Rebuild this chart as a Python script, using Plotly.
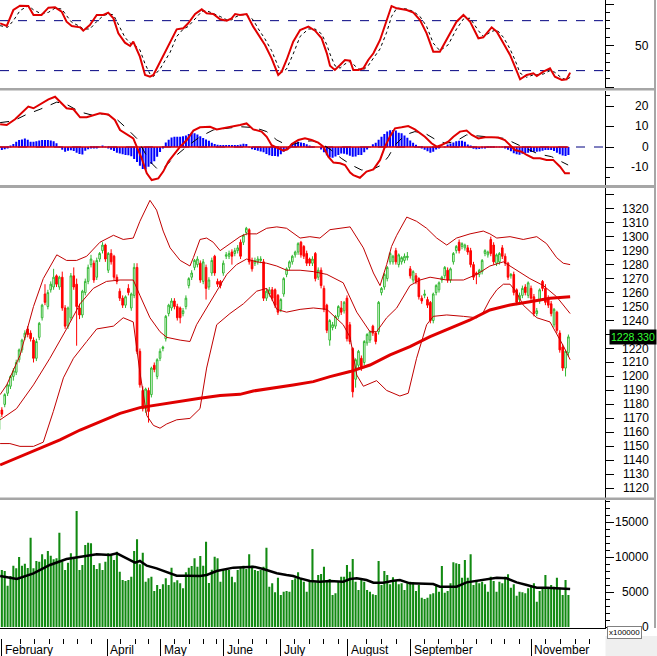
import plotly.graph_objects as go

# ---------------- data ----------------
opens = [1162,1176,1180,1188,1193,1200,1203,1212,1219,1228,
         1234,1231,1226,1213,1228,1242,1259,1250,1262,1264,
         1272,1264,1271,1249,1236,1242,1272,1266,1249,1244,
         1260,1268,1280,1281,1271,1284,1290,1294,1276,1288,
         1286,1271,1261,1256,1251,1263,1249,1258,1278,1218,
         1190,1177,1190,1187,1208,1200,1213,1220,1227,1245,
         1249,1254,1250,1249,1245,1250,1265,1271,1278,1280,
         1281,1268,1278,1264,1274,1286,1268,1268,1274,1286,
         1286,1289,1288,1290,1296,1296,1303,1305,1283,1281,
         1282,1283,1282,1256,1259,1262,1262,1258,1248,1259,
         1273,1278,1282,1287,1289,1296,1293,1288,1284,1281,
         1288,1271,1276,1263,1251,1226,1235,1236,1243,1249,
         1247,1256,1237,1220,1198,1208,1213,1210,1224,1226,
         1236,1231,1232,1260,1264,1270,1282,1282,1290,1280,
         1282,1283,1285,1277,1269,1272,1270,1256,1258,1255,
         1253,1240,1260,1262,1269,1272,1276,1269,1282,1290,
         1296,1293,1292,1292,1290,1280,1274,1273,1275,1288,
         1287,1298,1294,1281,1282,1292,1286,1281,1272,1273,
         1262,1255,1258,1264,1258,1263,1257,1245,1254,1268,
         1263,1256,1252,1237,1246,1231,1221,1206,1217]
highs = [1173,1178,1188,1195,1201,1206,1212,1220,1227,1233,
         1236,1233,1228,1227,1239,1252,1266,1262,1268,1277,
         1273,1272,1275,1251,1250,1274,1278,1270,1252,1262,
         1270,1280,1287,1283,1285,1289,1296,1295,1289,1291,
         1287,1273,1263,1258,1258,1266,1260,1281,1281,1220,
         1193,1192,1192,1207,1210,1213,1220,1222,1244,1252,
         1256,1256,1252,1250,1249,1258,1271,1276,1284,1286,
         1283,1284,1280,1271,1285,1287,1270,1269,1283,1289,
         1290,1291,1292,1294,1298,1302,1307,1306,1285,1285,
         1286,1286,1284,1263,1264,1264,1263,1259,1256,1271,
         1278,1283,1287,1290,1296,1297,1294,1290,1285,1286,
         1289,1278,1278,1265,1252,1241,1239,1244,1251,1254,
         1254,1258,1239,1221,1213,1219,1215,1226,1231,1233,
         1237,1232,1254,1264,1274,1279,1289,1287,1292,1288,
         1286,1288,1289,1279,1276,1274,1271,1258,1262,1257,
         1254,1260,1266,1268,1272,1279,1278,1278,1289,1294,
         1298,1296,1295,1294,1292,1282,1275,1277,1284,1291,
         1290,1300,1296,1288,1289,1294,1288,1282,1274,1275,
         1263,1260,1265,1266,1268,1265,1259,1249,1263,1269,
         1266,1258,1254,1249,1247,1233,1223,1219,1230]
lows = [1158,1171,1178,1186,1191,1197,1201,1210,1217,1226,
        1228,1225,1210,1211,1226,1240,1251,1248,1260,1262,
        1264,1262,1247,1234,1234,1240,1262,1222,1241,1242,
        1258,1266,1278,1267,1269,1282,1288,1282,1274,1280,
        1269,1266,1254,1249,1249,1258,1247,1256,1216,1192,
        1175,1174,1167,1185,1203,1198,1211,1218,1225,1243,
        1247,1248,1240,1238,1243,1248,1263,1269,1276,1278,
        1267,1266,1255,1262,1272,1272,1264,1263,1272,1284,
        1284,1280,1286,1288,1284,1294,1301,1280,1275,1279,
        1280,1281,1254,1254,1257,1254,1249,1244,1246,1257,
        1271,1276,1280,1285,1287,1285,1284,1279,1279,1279,
        1268,1269,1263,1246,1231,1222,1233,1234,1241,1244,
        1245,1225,1223,1185,1192,1206,1204,1208,1222,1224,
        1229,1223,1230,1258,1262,1268,1280,1280,1280,1278,
        1280,1281,1283,1270,1267,1266,1255,1252,1256,1249,
        1238,1238,1258,1260,1267,1270,1267,1267,1280,1288,
        1288,1291,1290,1287,1278,1269,1266,1271,1273,1286,
        1285,1286,1280,1279,1280,1284,1279,1269,1270,1258,
        1251,1253,1256,1258,1256,1254,1243,1243,1252,1261,
        1251,1249,1243,1235,1231,1217,1204,1200,1214]
closes = [1172,1173,1187,1194,1200,1204,1210,1219,1226,1231,
          1230,1227,1213,1225,1238,1251,1253,1260,1266,1271,
          1266,1271,1249,1236,1249,1272,1264,1250,1244,1261,
          1268,1278,1284,1269,1283,1288,1294,1284,1288,1282,
          1271,1268,1256,1251,1257,1260,1259,1278,1218,1194,
          1177,1191,1175,1206,1205,1212,1218,1221,1243,1251,
          1254,1250,1242,1242,1247,1256,1270,1274,1283,1284,
          1269,1282,1263,1269,1283,1274,1266,1265,1281,1287,
          1288,1286,1290,1292,1286,1301,1306,1282,1277,1283,
          1284,1284,1256,1261,1262,1256,1251,1246,1255,1270,
          1277,1282,1286,1289,1295,1287,1286,1281,1281,1284,
          1270,1276,1265,1248,1233,1240,1237,1243,1250,1246,
          1253,1227,1225,1189,1212,1218,1206,1225,1230,1232,
          1231,1225,1253,1263,1273,1278,1288,1286,1282,1287,
          1285,1286,1286,1272,1275,1268,1257,1254,1259,1251,
          1240,1259,1265,1267,1271,1278,1269,1277,1288,1293,
          1290,1295,1294,1289,1280,1271,1273,1276,1283,1290,
          1289,1288,1282,1287,1288,1286,1281,1271,1273,1260,
          1253,1258,1263,1260,1267,1256,1245,1247,1262,1263,
          1253,1251,1245,1248,1233,1219,1206,1218,1228.33]

volumes = [6000,8140,8000,5900,7290,8760,8380,10000,8760,9050,
           8430,12760,8380,9430,9330,10380,9670,10860,10190,9670,
           9810,13480,9330,8140,9190,10520,9810,16570,8140,8860,
           11710,12050,11950,8860,8290,9100,8140,9330,10520,10290,
           9570,10760,7900,6710,6570,6710,7190,10860,12520,8950,
           10620,6480,6950,7190,5140,6000,5430,6100,6950,6000,
           8480,6380,6670,6240,5520,7810,8480,8710,9810,8620,
           10140,8760,12190,6290,8190,10050,9810,6480,8290,8140,
           8140,7190,6380,8140,8480,8760,8290,10380,8760,8140,
           8000,8140,8620,11330,5760,6240,4950,7050,4570,5050,
           5140,5050,6710,6950,7810,6950,6480,5050,6480,11140,
           6380,7430,7570,8620,6710,6860,
           4570,4810,6480,7190,7190,8860,7900,9710,6480,5290,
           6710,6480,5290,5050,4670,4570,9430,6000,8000,7430,
           6100,7100,6710,6100,6240,5290,6240,6480,6380,5140,
           6000,4190,4000,4190,4670,4810,6100,5050,8710,4900,
           5140,6240,9240,9100,9000,7050,9570,7050,10380,6000,
           6620,6240,6480,6100,5050,7190,6570,5050,6480,6240,
           7190,7520,5620,6100,4480,5050,4950,4810,5520,5900,
           6240,3620,5140,5520,7430,5520,6000,5760,7050,5620,
           4570,6710,4570]

macd_hist = [-1.5,-1.5,-1.1,-0.3,0.7,1.5,2.5,3.4,3.7,4.1,
             3.5,2.6,2.5,2.8,3.2,3.4,3.4,3.4,3.2,2.8,
             1.8,0.2,-1.3,-2.3,-1.8,-1.6,-2.0,-2.8,-3.4,-3.7,
             -1.8,-1.1,-0.7,-0.6,-0.3,0.2,0.5,-0.2,-0.6,-1.3,
             -2.0,-2.8,-3.2,-3.5,-3.9,-4.0,-4.5,-5.8,-7.3,-9.2,
             -10.7,-11.0,-9.6,-8.3,-7.0,-4.8,-2.5,-0.5,2.2,3.5,
             4.6,5.0,5.0,5.0,5.2,5.6,6.4,7.0,6.7,6.1,
             5.3,4.4,3.6,3.0,2.1,1.5,1.1,1.0,1.0,1.0,
             1.0,1.0,1.0,1.0,1.2,1.6,1.5,0.2,-1.1,-1.5,
             -1.8,-2.2,-2.6,-3.4,-4.0,-4.4,-4.4,-4.6,-3.5,-2.3,
             -1.6,-0.5,1.9,2.6,2.6,2.2,1.9,1.4,0.7,0.2,
             0,0,-1.2,-2.6,-4.0,-5.0,-5.3,-4.6,-3.9,-3.2,
             -3.3,-3.7,-4.3,-4.7,-4.6,-3.9,-3.9,-2.6,-1.2,0.1,
             1.3,2.1,3.5,5.0,6.4,7.6,8.2,8.3,8.0,7.0,
             6.7,5.6,4.5,3.2,2.1,1.1,0.1,-0.7,-1.4,-2.1,
             -2.8,-2.3,-1.2,-0.3,0,0.2,1.2,1.7,2.2,2.8,
             3.1,3.1,2.6,1.2,0.3,-0.8,-1.1,-1.0,-0.6,-0.3,
             -0.2,-0.2,-0.2,-0.2,-0.2,-0.2,-0.7,-1.4,-2.1,-3.0,
             -3.6,-3.8,-3.3,-3.1,-2.8,-2.4,-2.3,-2.3,-2.2,-1.8,
             -1.5,-1.5,-1.5,-2.0,-2.8,-3.6,-4.2,-4.4,-3.9]

# sampled indicator lines: (day index, value)
stoch_k = [(1.4,76.8),(3.7,73.6),(6.0,92.8),(8.3,98),(11.2,97.6),(13.0,86.8),(15.8,86.8),(18.2,95.6),
           (20.5,96),(22.8,90.8),(24.5,78.8),(26.3,73.6),(29.2,72),(30.3,68),(32.6,74.8),(35.0,86.8),
           (37.3,86.8),(39.0,89.6),(40.8,82.8),(42.5,64.8),(44.8,53.6),(46.6,49.6),(47.7,54.8),(50.0,36.8),
           (51.8,14.8),(53.5,12.8),(54.7,14.8),(57.0,30.8),(60.5,54.8),(62.8,69.6),(65.1,70.8),(66.8,76.8),
           (69.2,88),(71.5,93.6),(73.2,88.8),(75.5,88),(77.9,81.6),(80.2,80),(81.9,82.8),(83.1,88),
           (84.8,86.8),(87.1,88),(89.4,72.8),(91.2,62.8),(93.5,50.8),(95.8,34.8),(98.1,14.8),(99.3,18.8),
           (101.0,32.8),(103.3,54.8),(105.7,68.8),(108.6,72.8),(110.9,68),(113.2,58.8),(115.0,40.8),(116.1,26),
           (117.8,20.8),(119.6,26.8),(121.3,32.8),(123.1,32),(124.2,20.8),(126.0,20.8),(127.7,22.8),(129.4,32.8),
           (131.2,40.8),(133.5,56.8),(135.8,78.8),(137.5,97.6),(139.3,94.8),(142.8,92.8),(145.1,89.6),(147.4,80.8),
           (149.7,64.8),(152.0,42.8),(154.3,42.8),(157.2,60.8),(160.1,78.8),(162.5,86.8),(164.8,78.8),(167.7,58.8),
           (169.4,60),(172.3,72),(174.1,66.8),(176.4,52.8),(178.7,38.8),(180.4,24.8),(182.2,9.6),(184.5,14.8),
           (186.8,16.8),(188.0,13.6),(190.3,18.8),(192.6,22.8),(194.3,12.8),(196.7,8.8),(198.4,9.6),(199.6,17.6)]
stoch_d = [(1.4,74),(4.0,72),(6.0,80),(8.3,92),(11.2,98),(13.0,93),(15.8,88),(18.2,90),(20.5,95),(22.8,94),
           (24.5,86),(26.3,78),(29.2,73),(30.3,70),(32.6,70),(35.0,79),(37.3,86),(39.0,88),(40.8,87),(42.5,76),
           (44.8,60),(46.6,53),(47.7,52),(50.0,45),(51.8,28),(53.5,16),(54.7,13),(57.0,22),(60.5,42),(62.8,61),
           (65.1,70),(66.8,73),(69.2,82),(71.5,91),(73.2,92),(75.5,89),(77.9,85),(80.2,81),(81.9,81),(83.1,84),
           (84.8,87),(87.1,87),(89.4,81),(91.2,70),(93.5,58),(95.8,44),(98.1,25),(99.3,18),(101.0,22),(103.3,40),
           (105.7,61),(108.6,70),(110.9,70),(113.2,64),(115.0,51),(116.1,40),(117.8,26),(119.6,23),(121.3,28),
           (123.1,31),(124.2,28),(126.0,22),(127.7,21),(129.4,26),(131.2,35),(133.5,46),(135.8,66),(137.5,85),
           (139.3,95),(142.8,94),(145.1,91),(147.4,85),(149.7,73),(152.0,53),(154.3,44),(157.2,51),(160.1,70),
           (162.5,82),(164.8,83),(167.7,68),(169.4,61),(172.3,67),(174.1,69),(176.4,60),(178.7,46),(180.4,33),
           (182.2,17),(184.5,12),(186.8,15),(188.0,15),(190.3,16),(192.6,20),(194.3,18),(196.7,11),(198.4,9),(199.6,12)]

macd_line = [(1.4,11.1),(3.7,10.7),(6.6,13.5),(8.9,16.4),(11.2,19.7),(13.0,18.9),(15.8,21.3),(18.2,23.2),
             (20.5,24.5),(22.2,22.1),(24.5,18.9),(26.9,18.4),(29.2,14.5),(31.5,14.5),(33.8,15.6),(36.1,16.4),
             (39.0,15.9),(41.3,13.2),(43.1,8.3),(45.4,6.3),(47.7,4.2),(48.9,0.2),(50.6,-5.5),(52.4,-12.8),
             (54.1,-16.1),(56.4,-15.3),(58.1,-12.0),(59.9,-7.1),(61.6,-3.9),(64.0,0.2),(66.3,3.4),(68.6,8.0),
             (70.9,9.6),(74.4,9.9),(76.7,8.6),(79.0,9.1),(81.3,9.9),(84.8,10.7),(87.1,11.5),(89.4,8.6),
             (92.3,7.5),(94.1,5.0),(95.8,0.9),(97.6,-0.2),(99.9,-1.8),(101.4,-1.0),(102.8,1.5),(105.1,3.4),
             (107.4,4.2),(109.7,3.4),(112.0,2.1),(113.8,0.2),(115.5,-4.7),(117.3,-7.6),(119.6,-7.9),(121.3,-8.8),
             (123.1,-12.5),(124.2,-13.7),(126.5,-15.0),(128.8,-12.0),(131.2,-10.9),(133.5,-6.3),(135.2,0.2),
             (136.9,5.0),(138.7,9.1),(141.0,9.6),(143.3,10.2),(145.6,8.6),(147.4,6.7),(149.1,5.0),(151.4,1.8),
             (153.2,0.2),(154.9,1.0),(157.2,2.6),(159.0,5.0),(161.3,7.5),(163.6,8.0),(165.4,5.9),(167.7,4.2),
             (170.0,4.7),(172.3,4.7),(174.6,4.6),(176.9,3.4),(178.7,0.9),(180.4,-1.5),(182.7,-2.3),(184.5,-3.9),
             (186.8,-5.5),(189.1,-5.5),(191.4,-6.3),(193.7,-6.3),(196.1,-9.6),(197.8,-12.8),(199.5,-12.8)]
macd_signal = [(1.4,11.9),(6.0,12.7),(10.6,15.9),(15.3,18.4),(21.1,21.9),(24.5,20.8),(29.2,17.1),(33.8,15.4),
               (37.3,16.2),(40.8,15.0),(45.4,9.1),(48.9,4.2),(51.2,-1.5),(53.5,-7.1),(56.4,-11.2),(58.1,-10.4),
               (60.5,-7.1),(62.8,-3.9),(66.3,0.2),(70.9,5.0),(75.5,8.3),(80.2,9.1),(84.8,9.9),(88.3,9.6),
               (91.8,8.6),(94.1,7.5),(97.6,3.4),(99.9,1.8),(102.2,0.9),(104.0,1.6),(107.0,2.8),(110.0,3.0),
               (113.0,1.8),(116.5,-1.5),(120.0,-5.5),(123.6,-8.8),(127.0,-11.2),(130.5,-11.2),(134.0,-8.8),
               (136.4,-4.7),(138.7,0.9),(142.2,5.9),(145.6,7.5),(149.1,6.7),(152.6,3.8),(156.1,1.8),(159.6,2.6),
               (163.6,5.9),(167.7,5.4),(172.3,5.0),(176.9,4.2),(180.4,1.8),(183.9,-0.6),(188.5,-3.4),
               (193.1,-4.7),(196.6,-7.1),(198.9,-8.8)]

bb_upper = [(1.4,1187),(3.7,1194),(8.3,1215),(13.0,1250),(16.4,1270),(21.1,1287),(24.5,1283),(28.0,1283),
            (31.5,1286),(36.1,1296),(40.8,1301),(44.2,1298),(47.7,1299),(50.0,1311),(53.5,1326),(55.8,1319),
            (58.1,1304),(60.5,1292),(64.0,1283),(67.4,1279),(68.6,1285),(70.9,1298),(73.2,1299),(75.5,1296),
            (77.9,1290),(81.3,1295),(84.8,1300),(87.1,1302),(90.6,1302),(94.1,1306),(97.6,1307),(101.0,1306),
            (105.7,1299),(109.1,1300),(112.6,1299),(116.1,1305),(119.6,1306),(123.1,1307),(127.7,1292),
            (131.2,1274),(133.5,1265),(135.8,1280),(137.5,1293),(139.3,1301),(142.8,1314),(146.2,1311),
            (149.7,1306),(153.2,1299),(156.7,1294),(160.1,1299),(164.8,1302),(169.4,1304),(171.7,1302),
            (174.1,1299),(178.7,1300),(183.3,1298),(188.0,1300),(191.4,1295),(194.9,1285),(197.2,1281),(199.6,1280)]
bb_middle = [(1.4,1169),(7.1,1177),(13.0,1194),(18.7,1213),(24.5,1234),(29.2,1252),(33.8,1263),(38.4,1268),
             (43.1,1269),(47.7,1269),(50.0,1258),(53.5,1242),(57.0,1232),(59.3,1228),(64.0,1226),(67.4,1225),
             (69.7,1237),(73.2,1249),(76.7,1262),(80.2,1273),(83.6,1280),(87.1,1284),(90.6,1282),(94.1,1281),
             (97.6,1279),(101.0,1276),(105.7,1276),(110.3,1275),(115.0,1273),(120.7,1267),(125.4,1246),
             (130.0,1232),(132.3,1232),(135.8,1242),(139.3,1249),(143.9,1265),(147.4,1269),(150.9,1271),
             (156.7,1269),(162.5,1269),(167.1,1273),(171.7,1279),(176.4,1282),(181.0,1276),(185.6,1270),
             (190.3,1265),(194.9,1257),(199.6,1245)]
bb_lower = [(1.4,1152),(4.8,1152),(8.3,1150),(13.0,1150),(16.4,1153),(19.9,1175),(23.4,1199),(26.9,1213),
            (31.5,1225),(35.0,1234),(40.8,1236),(44.2,1242),(47.7,1239),(50.0,1203),(52.4,1172),(54.7,1165),
            (57.0,1163),(59.3,1166),(62.8,1169),(67.4,1170),(70.9,1177),(73.2,1206),(76.7,1237),(81.3,1245),
            (86.0,1252),(90.6,1261),(94.1,1263),(97.6,1248),(101.0,1246),(105.7,1248),(110.3,1249),(115.0,1248),
            (120.7,1237),(123.1,1228),(125.4,1201),(127.7,1193),(132.3,1197),(135.8,1190),(140.4,1186),
            (143.3,1188),(146.2,1213),(149.7,1237),(152.0,1243),(156.7,1244),(162.5,1243),(167.1,1242),
            (169.4,1246),(171.7,1255),(174.1,1262),(176.4,1266),(178.7,1266),(181.0,1260),(183.3,1251),
            (188.0,1242),(192.6,1239),(197.2,1222),(199.6,1212)]
ma200 = [(1.4,1136.7),(8.3,1142.7),(15.3,1148.6),(22.2,1154.6),(29.2,1161.7),(36.1,1167.7),(43.1,1173.6),
         (50.0,1177.7),(57.0,1180.0),(64.0,1182.5),(70.9,1184.4),(77.9,1186.3),(84.8,1187.2),(89.4,1189.6),
         (96.4,1191.5),(103.3,1193.9),(110.3,1196.3),(116.1,1199.9),(123.1,1203.5),(130.0,1208.2),
         (137.0,1215.4),(143.9,1221.3),(150.9,1228.5),(157.8,1234.5),(164.8,1240.4),(171.7,1247.6),
         (178.7,1251.1),(185.6,1253.5),(192.6,1255.9),(199.6,1257.1)]
vol_ma = [(1.4,7290),(7.2,6860),(13.0,7670),(18.7,8860),(24.5,9710),(30.3,10140),(35.0,10380),(39.6,10290),
          (42.0,10520),(44.2,10050),(48.3,9190),(50.0,9430),(52.4,8760),(55.8,8380),(59.3,7810),(62.8,7330),
          (66.3,7330),(70.9,7290),(73.2,7430),(76.7,8000),(82.5,8480),(87.1,8620),(89.4,8620),(92.9,8290),
          (97.6,7670),(101.0,7430),(103.3,7290),(105.7,6950),(109.1,6570),(112.6,6480),(115.9,6570),
          (120.7,6480),(123.1,6860),(125.4,6950),(128.8,6710),(131.2,6330),(134.6,6330),(138.1,6620),
          (140.4,6710),(143.9,6240),(147.4,6240),(152.0,6140),(154.3,5760),(160.1,5760),(163.6,6380),
          (167.1,6620),(170.6,6860),(174.1,7050),(177.5,6950),(181.0,6380),(184.5,6000),(188.0,5620),
          (191.4,5620),(196.1,5520),(199.6,5430)]

months = ["February", "April", "May", "June", "July", "August", "September", "November"]
month_pos = [1.95, 38.6, 57.2, 79.0, 99.0, 122.1, 144.2, 186.0]
week_pos = [8.55, 13.5, 18.5, 23.4, 28.2, 33.2, 43.3, 48.3, 52.9, 62.2, 67.2, 72.0, 76.7, 84.2, 89.1,
            94.1, 103.9, 108.9, 113.8, 119.0, 128.8, 134.1, 139.1, 149.1, 153.8, 158.2, 162.5, 167.1,
            172.3, 176.9, 181.9, 191.2, 196.4, 201.6, 206.5]

stoch_labels = [50]
macd_labels = [20, 10, 0, -10]
# 1230 sits under the last-price tag in the reference, so it is not printed
price_labels = [1120, 1130, 1140, 1150, 1160, 1170, 1180, 1190, 1200, 1210, 1220,
                1240, 1250, 1260, 1270, 1280, 1290, 1300, 1310, 1320]
price_ticks = list(range(1120, 1331, 10))
vol_labels = [15000, 10000, 5000, 0]
last_price_text = "1228.330"
vol_unit_text = "x100000"

# ---------------- layout geometry (pixels) ----------------
W, H = 657, 656
PLOT_W = 605
def px(xp):
    return xp / PLOT_W
def py(yp):
    return 1 - yp / H

X_RANGE = [1.356, 211.72]
FONT = "Liberation Sans, Arial, sans-serif"

idx = list(range(1, len(closes) + 1))
def split(pairs):
    return [p[0] for p in pairs], [p[1] for p in pairs]

fig = go.Figure()

# ---- stochastic panel ----
x, y = split(stoch_d)
fig.add_trace(go.Scatter(x=x, y=y, mode="lines", line=dict(color="black", width=1, dash="dot"),
                         xaxis="x", yaxis="y", hoverinfo="skip"))
x, y = split(stoch_k)
fig.add_trace(go.Scatter(x=x, y=y, mode="lines", line=dict(color="#e00000", width=2),
                         xaxis="x", yaxis="y", hoverinfo="skip"))

# ---- MACD panel ----
fig.add_trace(go.Bar(x=idx, y=macd_hist, width=0.7, marker=dict(color="#0000ff", line=dict(width=0)),
                     xaxis="x2", yaxis="y2", hoverinfo="skip"))
fig.add_trace(go.Scatter(x=[idx[0], idx[-1]], y=[0, 0], mode="lines", line=dict(color="#e00000", width=1.5),
                         xaxis="x2", yaxis="y2", hoverinfo="skip"))
x, y = split(macd_signal)
fig.add_trace(go.Scatter(x=x, y=y, mode="lines", line=dict(color="black", width=1, dash="dash"),
                         xaxis="x2", yaxis="y2", hoverinfo="skip"))
x, y = split(macd_line)
fig.add_trace(go.Scatter(x=x, y=y, mode="lines", line=dict(color="#e00000", width=2),
                         xaxis="x2", yaxis="y2", hoverinfo="skip"))

# ---- price panel ----
for band in (bb_upper, bb_middle, bb_lower):
    x, y = split(band)
    fig.add_trace(go.Scatter(x=x, y=y, mode="lines", line=dict(color="#c00000", width=1),
                             xaxis="x3", yaxis="y3", hoverinfo="skip"))
x, y = split(ma200)
fig.add_trace(go.Scatter(x=x, y=y, mode="lines", line=dict(color="#e00000", width=3),
                         xaxis="x3", yaxis="y3", hoverinfo="skip"))
fig.add_trace(go.Candlestick(x=idx, open=opens, high=highs, low=lows, close=closes,
                             increasing=dict(line=dict(color="#33b833", width=1), fillcolor="#ffffff"),
                             decreasing=dict(line=dict(color="#ff0000", width=1), fillcolor="#ff0000"),
                             whiskerwidth=0, xaxis="x3", yaxis="y3", hoverinfo="skip"))

# ---- volume panel ----
fig.add_trace(go.Bar(x=idx, y=volumes, width=0.72, marker=dict(color="#128a12", line=dict(width=0)),
                     xaxis="x4", yaxis="y4", hoverinfo="skip"))
x, y = split(vol_ma)
fig.add_trace(go.Scatter(x=x, y=y, mode="lines", line=dict(color="black", width=2.5),
                         xaxis="x4", yaxis="y4", hoverinfo="skip"))
# carrier for the date-tick axis
fig.add_trace(go.Scatter(x=[month_pos[0]], y=[0], mode="markers", marker=dict(opacity=0),
                         xaxis="x5", yaxis="y4", hoverinfo="skip"))

hidden_x = dict(range=X_RANGE, visible=False, fixedrange=True)
def yax(domain, rng, tickvals, minor_vals=None, minor_dtick=None):
    d = dict(domain=domain, range=rng, side="right", showline=True, linecolor="black", linewidth=1,
             ticks="outside", tickvals=tickvals, ticklen=8, tickcolor="black", tickwidth=1,
             showticklabels=False, showgrid=False, zeroline=False, fixedrange=True)
    if minor_vals is not None:
        d["minor"] = dict(tickvals=minor_vals, ticks="outside", ticklen=4, tickcolor="black", showgrid=False)
    if minor_dtick is not None:
        d["minor"] = dict(dtick=minor_dtick, ticks="outside", ticklen=4, tickcolor="black", showgrid=False)
    return d

fig.update_layout(
    width=W, height=H, margin=dict(l=0, r=W - PLOT_W, t=0, b=0),
    paper_bgcolor="white", plot_bgcolor="white", showlegend=False, boxgap=0.2,
    font=dict(family=FONT, size=12, color="black"),
    xaxis=dict(hidden_x, anchor="y"),
    xaxis2=dict(hidden_x, anchor="y2"),
    xaxis3=dict(hidden_x, anchor="y3", rangeslider=dict(visible=False)),
    xaxis4=dict(range=X_RANGE, anchor="y4", showline=True, linecolor="black", linewidth=1,
                ticks="", showticklabels=False, showgrid=False, zeroline=False, fixedrange=True),
    xaxis5=dict(range=X_RANGE, overlaying="x4", anchor="free", position=py(638), side="bottom",
                showline=False, ticks="outside", tickvals=month_pos, ticklen=18, tickcolor="black",
                minor=dict(tickvals=week_pos, ticks="outside", ticklen=5, tickcolor="black", showgrid=False),
                showticklabels=False, showgrid=False, zeroline=False, fixedrange=True),
    yaxis=dict(yax([py(88), 1.0], [-0.84, 104.8], [0, 50, 100], minor_vals=[10, 20, 30, 40, 60, 70, 80, 90]),
               anchor="x"),
    yaxis2=dict(yax([py(185), py(90.5)], [-18.54, 27.56], [-10, 0, 10, 20], minor_vals=[-15, 25]),
                anchor="x2"),
    yaxis3=dict(yax([py(497.5), py(188)], [1113.42, 1334.81], price_ticks), anchor="x3"),
    yaxis4=dict(yax([py(627.5), py(500)], [-71, 18143], [0, 5000, 10000, 15000], minor_dtick=1000),
                anchor="x4"),
)

shapes = []
for lvl in (80, 20):
    shapes.append(dict(type="line", xref="paper", x0=0, x1=1, yref="y", y0=lvl, y1=lvl, layer="below",
                       line=dict(color="#000080", width=1, dash="dash")))
shapes.append(dict(type="line", xref="paper", x0=0, x1=1, yref="y2", y0=0, y1=0, layer="below",
                   line=dict(color="#000080", width=1, dash="dash")))
for top, bot in ((88, 90.5), (185, 188), (497.5, 500)):
    shapes.append(dict(type="rect", xref="paper", x0=0, x1=px(656), yref="paper", y0=py(bot), y1=py(top),
                       fillcolor="#a6a6a6", line=dict(width=0)))
shapes.append(dict(type="line", xref="paper", x0=px(655), x1=px(655), yref="paper", y0=py(628), y1=1,
                   line=dict(color="#a6a6a6", width=2)))
shapes.append(dict(type="rect", xref="paper", x0=px(605.5), x1=px(657), yref="paper", y0=0, y1=py(636),
                   fillcolor="#efefef", line=dict(width=0)))
fig.update_layout(shapes=shapes)

ann = []
lab_x = px(651)
for v in stoch_labels:
    ann.append(dict(x=lab_x, xref="paper", y=v, yref="y", text=str(v), showarrow=False,
                    xanchor="right", yanchor="middle", font=dict(size=12)))
for v in macd_labels:
    ann.append(dict(x=lab_x, xref="paper", y=v, yref="y2", text=str(v), showarrow=False,
                    xanchor="right", yanchor="middle", font=dict(size=12)))
for v in price_labels:
    ann.append(dict(x=lab_x, xref="paper", y=v, yref="y3", text=str(v), showarrow=False,
                    xanchor="right", yanchor="middle", font=dict(size=12)))
for v in vol_labels:
    ann.append(dict(x=lab_x, xref="paper", y=v, yref="y4", text=str(v), showarrow=False,
                    xanchor="right", yanchor="middle", font=dict(size=12)))
for name, pos in zip(months, month_pos):
    ann.append(dict(x=pos + 0.45, xref="x4", y=py(650), yref="paper", text=name, showarrow=False,
                    xanchor="left", yanchor="middle", font=dict(size=12)))
ann.append(dict(x=px(606.5), xref="paper", y=py(632), yref="paper", text=vol_unit_text, showarrow=False,
                xanchor="left", yanchor="middle", font=dict(size=8), bgcolor="white",
                bordercolor="#808080", borderwidth=1, borderpad=1))
ann.append(dict(x=px(609), xref="paper", y=closes[-1], yref="y3", text=last_price_text, showarrow=False,
                xanchor="left", yanchor="middle", font=dict(size=10.5, color="#33ff33"), bgcolor="black",
                borderpad=1))
fig.update_layout(annotations=ann)

fig.write_html("out.html")
